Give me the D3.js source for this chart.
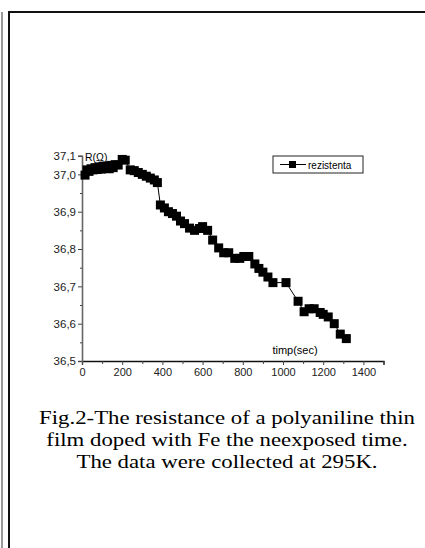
<!DOCTYPE html>
<html lang="en">
<head>
	<meta charset="UTF-8">
	<title>Rezistenta</title>
	<script src="https://d3js.org/d3.v7.min.js"></script>
	<style>
		body{
			margin: 0;
			background: #fff;
		}
		svg{
			display: block;
		}
	</style>
</head>
<body>
	<div id="chart"></div>
	<script>
		// data
		var timp = [15, 25, 35, 45, 55, 65, 75, 85, 95, 105, 115, 125, 135, 145, 155, 165, 180, 200, 215,
			240, 260, 280, 300, 320, 340, 360, 375,
			390, 410, 430, 450, 470, 490, 510, 535, 560, 585, 600, 625, 650, 680,
			705, 730, 760, 785, 805, 830, 860, 880, 900, 925, 950, 1015,
			1075, 1105, 1130, 1155, 1185, 1200, 1225, 1255, 1285, 1315];
		var rezistenta = [36.998, 37.012, 37.008, 37.015, 37.012, 37.018, 37.013, 37.02, 37.014, 37.022, 37.016, 37.022, 37.015, 37.024, 37.018, 37.026, 37.025, 37.04, 37.038,
			37.012, 37.01, 37.005, 37.0, 36.995, 36.99, 36.985, 36.978,
			36.918, 36.91, 36.9, 36.895, 36.888, 36.875, 36.868, 36.856, 36.85, 36.855, 36.86, 36.85, 36.824, 36.803,
			36.79, 36.79, 36.775, 36.775, 36.78, 36.78, 36.76, 36.748, 36.738, 36.725, 36.71, 36.71,
			36.66, 36.632, 36.64, 36.64, 36.63, 36.625, 36.618, 36.6, 36.572, 36.56];
		var xTicks = [0, 200, 400, 600, 800, 1000, 1200, 1400];
		var xMinor = [100, 300, 500, 700, 900, 1100, 1300, 1500];
		// the axis stops at 37.05 and its end tick is printed rounded
		var yTicks = [36.5, 36.6, 36.7, 36.8, 36.9, 37.0, 37.05];
		var yLabels = ['36,5', '36,6', '36,7', '36,8', '36,9', '37,0', '37,1'];
		var yMinor = [36.55, 36.65, 36.75, 36.85, 36.95];
		var caption = ['Fig.2-The resistance of a polyaniline thin',
			'film doped with Fe the neexposed time.',
			'The data were collected at 295K.'];

		var width = 425, height = 548;
		var svg = d3.select('#chart').append('svg')
			.attr('width', width)
			.attr('height', height);

		// page frame
		svg.append('line').attr('x1', 2).attr('x2', 2).attr('y1', 12).attr('y2', height)
			.attr('stroke', '#999').attr('stroke-width', 2);
		svg.append('path').attr('d', 'M9,' + height + 'V12H' + width)
			.attr('fill', 'none').attr('stroke', '#111').attr('stroke-width', 2);

		var x = d3.scaleLinear().domain([0, 1500]).range([82, 383.5]);
		var y = d3.scaleLinear().domain([36.5, 37.05]).range([361, 155.7]);

		var xAxis = svg.append('g').attr('transform', 'translate(0,361)')
			.call(d3.axisBottom(x).tickValues(xTicks).tickSize(4).tickPadding(3).tickFormat(d3.format('d')));
		svg.append('g').attr('transform', 'translate(0,361)')
			.call(d3.axisBottom(x).tickValues(xMinor).tickSize(3).tickFormat(''))
			.select('.domain').remove();
		xAxis.selectAll('text').attr('font-family', 'Arial, "Liberation Sans", sans-serif').attr('font-size', 11).attr('fill', '#222');
		xAxis.select('.domain').attr('stroke', '#111').attr('stroke-width', 1.3);

		var yAxis = svg.append('g').attr('transform', 'translate(82,0)')
			.call(d3.axisLeft(y).tickValues(yTicks).tickSize(4).tickPadding(2)
				.tickFormat(function(d, i){ return yLabels[i]; }));
		svg.append('g').attr('transform', 'translate(82,0)')
			.call(d3.axisLeft(y).tickValues(yMinor).tickSize(2).tickFormat(''))
			.select('.domain').attr('stroke', 'none');
		yAxis.selectAll('text').attr('font-family', 'Arial, "Liberation Sans", sans-serif').attr('font-size', 11.5).attr('fill', '#222');
		yAxis.select('.domain').attr('stroke', '#666').attr('stroke-width', 1.6);
		svg.selectAll('.tick line').attr('stroke', '#444');

		var data = timp.map(function(t, i){ return [t, rezistenta[i]]; });

		svg.append('path')
			.datum(data)
			.attr('fill', 'none')
			.attr('stroke', '#000')
			.attr('stroke-width', 1)
			.attr('d', d3.line().x(function(d){ return x(d[0]); }).y(function(d){ return y(d[1]); }));

		var s = 9;
		svg.selectAll('rect.pt')
			.data(data)
			.enter()
			.append('rect')
			.attr('class', 'pt')
			.attr('fill', '#000')
			.attr('width', s)
			.attr('height', s)
			.attr('x', function(d){ return x(d[0]) - s / 2; })
			.attr('y', function(d){ return y(d[1]) - s / 2; });

		// axis titles
		svg.append('text').attr('x', 85).attr('y', 161)
			.attr('font-family', 'Arial, "Liberation Sans", sans-serif').attr('font-size', 10.5)
			.text('R(\u03A9)');
		svg.append('text').attr('x', 295).attr('y', 354).attr('text-anchor', 'middle')
			.attr('font-family', 'Arial, "Liberation Sans", sans-serif').attr('font-size', 11)
			.text('timp(sec)');

		// legend
		var leg = svg.append('g').attr('transform', 'translate(273,156)');
		leg.append('rect').attr('width', 90).attr('height', 17)
			.attr('fill', '#fff').attr('stroke', '#222').attr('stroke-width', 1);
		leg.append('line').attr('x1', 7).attr('x2', 33).attr('y1', 8.5).attr('y2', 8.5).attr('stroke', '#000');
		leg.append('rect').attr('x', 16).attr('y', 5).attr('width', 7).attr('height', 7).attr('fill', '#000');
		leg.append('text').attr('x', 35).attr('y', 12.5)
			.attr('font-family', 'Arial, "Liberation Sans", sans-serif').attr('font-size', 10)
			.text('rezistenta');

		// caption, stretched sideways like the source scan
		svg.append('g').attr('transform', 'translate(227,0) scale(1.2,1)')
			.selectAll('text')
			.data(caption)
			.enter()
			.append('text')
			.attr('x', 0)
			.attr('y', function(d, i){ return 424 + i * 22; })
			.attr('text-anchor', 'middle')
			.attr('font-family', '"Liberation Serif", "Times New Roman", serif')
			.attr('font-size', 19)
			.text(function(d){ return d; });
	</script>
</body>
</html>
